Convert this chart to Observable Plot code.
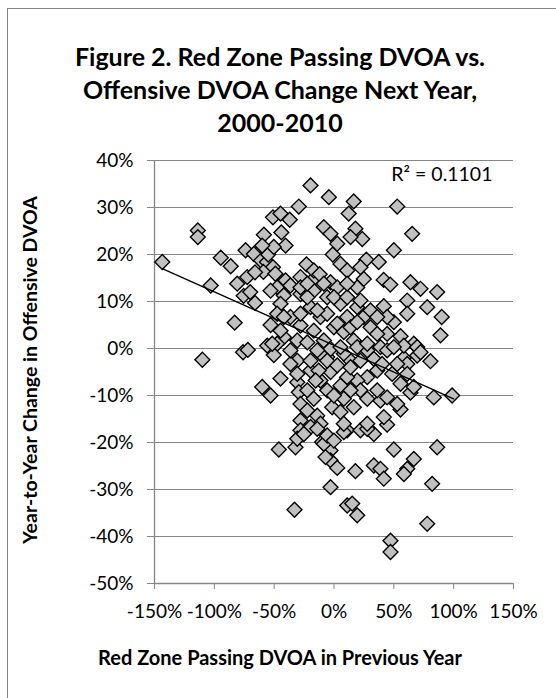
<!DOCTYPE html>
<html>
<head>
<meta charset="utf-8">
<script src="https://cdn.jsdelivr.net/npm/d3@7"></script>
<script src="https://cdn.jsdelivr.net/npm/@observablehq/plot@0.6"></script>
<style>
  html, body { margin: 0; padding: 0; background: #fff; overflow: hidden; }
  #wrap { width: 556px; height: 698px; overflow: hidden; position: relative; font-family: Lato, "Open Sans", sans-serif; color: #000; }
  #frame { position: absolute; left: 7px; top: 8px; width: 600px; height: 760px; border: 1px solid #858585; box-sizing: border-box; }
  #title { position: absolute; left: 0; top: 40px; width: 560px; text-align: center; font-weight: 700; font-size: 25px; line-height: 33px; }
  #ytitle { position: absolute; left: 29px; top: 370px; transform: translate(-50%, -50%) rotate(-90deg); white-space: nowrap; font-weight: 700; font-size: 19.5px; }
  #xtitle { position: absolute; left: 280px; top: 657px; transform: translate(-50%, -50%); white-space: nowrap; font-weight: 700; font-size: 20px; }
  #chart { position: absolute; left: 0; top: 130px; }
</style>
</head>
<body>
<div id="wrap">
<div id="frame"></div>
<div id="title">Figure 2. Red Zone Passing DVOA vs.<br>Offensive DVOA Change Next Year,<br>2000-2010</div>
<div id="chart"></div>
<div id="ytitle">Year-to-Year Change in Offensive DVOA</div>
<div id="xtitle">Red Zone Passing DVOA in Previous Year</div>
</div>
<script>
// Red zone passing DVOA in previous year (%), per team-season
const redZoneDVOA = [
  -143.5,-113.8,-113.8,-103,-94.6,-86.3,-83,-80.9,-73.9,-76,-72,-110,-72.5,-67,-75.5,-66,-70,
  -58.6,-51,-44.7,-37,-44,-40.5,-29.4,-19.6,-4.3,-61,-56,-51,-59,-49,-55,-50.3,-66,
  -23,-28,-18.2,-16.9,-12,-8.5,-2.9,-1,-53,16.5,52.8,12.3,65.3,17.9,23.6,13.8,2.7,-60,
  50,27,37.4,5.4,22.1,11,24.9,41.5,47,63.9,72.3,86.2,-40.5,-47.5,-36.4,-2.9,2.7,19.4,
  -53,-41.9,-28,-16.9,-5.7,5.4,61.2,41.6,77.9,90,61.2,50,-44.7,-47.5,-36.4,-19.6,-11.3,
  19.4,11,24.9,-28,-16.9,-0.1,8.2,30.5,44.4,55.6,89,66.7,-41.9,-47.5,-30.7,-22.3,-8.5,
  16.5,38.8,-50.3,-30.7,-5.7,13.8,33.3,58.4,80.6,61.2,-44.7,-60,-53,-30.7,-29.4,-19.6,
  -11.3,-2.9,-22.3,-16.9,-28,-22.3,-28,-14,-1.5,8.2,16.5,5.4,11,22.1,33.3,44.4,41.6,
  38.8,55.6,52.8,63.9,83.4,98.7,69.5,48.6,36.1,27.8,19.4,11,36.1,22.1,5.4,55.6,66.7,
  27.8,8.2,-11.3,-2.9,44.4,-46.1,-32.2,-9.9,-2.9,-2.9,2.7,17.9,33.3,38.8,41.6,50,66.7,
  61.2,58.4,86.2,82,-2.9,-33,11,15.2,19.4,77.9,47.2,47.2,-28,-30.7,-11.3,-19.6,-25.2,
  -14,-8.5,-7.1,8.2,27.8,
  -55.8,-51.6,-36.4,-30.7,-19.6,-12.8,-5.7,2.7,13.8,22.1,19.4,40.2,52.8,61.2,58.4,69.5,
  -15.3,-5.7,-0.1,13.8,27.8,44.4,8.2,27.8,-5.7,-0.1,
  -41.9,-28,-5.7,2.7,13.8,19.4,36.1,27.8,5.4,-14,-36.4,-44.7,50,72.3,
  -22.3,-14,-0.1,11,22.1,30.5,-28,-22.3,11,-8.5,44.4,36.1
];
// Year-to-year change in offensive DVOA (%), same order
const dvoaChange = [
  18.4,25.1,23.7,13.4,19.3,17.5,5.5,13.8,20.9,-0.8,-0.3,-2.4,15.2,20.1,11.2,9.7,12,
  24.2,27.9,28.7,27.4,24.7,21.9,30.2,34.7,32.2,18.7,18.4,17.3,16.3,15.9,20,21.6,16.2,
  17.9,15.2,14.5,16.6,15.8,25.8,24.4,20,5,31.3,30.2,28.7,24.4,25.5,23.3,23.7,22.3,21.9,
  20.9,18.9,18.4,18,17.3,16.6,14.8,14.6,13.6,14.1,12.7,12,14.5,13,13.4,14.1,13,13,
  12.3,11.3,11.6,12.3,10.9,9.5,10.2,9,8.8,6.7,7.4,5.6,9.5,7.4,6.7,8.8,6.7,
  8.8,6.7,6.7,4.9,3.8,4.5,3.5,4.5,3.1,2.6,2.8,1,2.4,1,1.7,1.3,1.7,
  1.7,0.3,-1.4,-2.6,-1.8,-2.6,-2.2,-2,-2.7,-3.3,-6.4,-8.2,-10,-7.2,-9.3,-4.7,
  -6.8,-5,-8.9,-10.7,-11.8,-13.2,-15.3,-14.3,-12.5,-10.7,-12.5,-13.5,-17.4,-17.4,-18.2,-16.2,-14.6,
  -11.1,-13,-11.8,-9.4,-10.4,-10,-1.5,-5.4,-4.7,-6.1,-6.8,-6.1,-8.9,-8.9,-7.9,-7.5,-8.2,
  -0.4,-1.1,-1.1,-0.1,-0.4,-21.5,-21,-19.9,-21.7,-23.8,-25.4,-26.1,-24.9,-25.6,-27.7,-21.5,-23.5,
  -25.6,-26.7,-21,-28.8,-29.5,-34.3,-33.4,-33,-35.5,-37.3,-40.9,-43.3,-17.4,-19.2,-16,-16.7,-18.2,
  -17.1,-20.3,-23.1,-17.8,-17.1,
  0.6,1,-3.3,-5.4,-2.6,-4.7,-2.6,-3.6,-4,-2.6,0.3,-3.3,-3.3,-5.4,0.6,0.3,
  -6.8,-8.9,-10,-8.9,-10.7,-10.4,-16,-16,-18.5,-19.6,
  6.7,7.4,7.4,5.3,4.5,5.6,3.1,1,0.3,-0.4,-0.4,3.8,0.3,-0.8,
  10.9,8.1,10.9,10.9,10.2,8.1,13,13.8,13.8,13.8,6.7,6.7
];
// Linear trendline endpoints (x %, y %)
const trendX = [-143.5, 100];
const trendY = [17.0, -10.7];
const r2Label = ["R² = 0.1101"];
const xTicks = [-150, -100, -50, 0, 50, 100, 150];
const yTicks = [-50, -40, -30, -20, -10, 0, 10, 20, 30, 40];

const n = Math.min(redZoneDVOA.length, dvoaChange.length);
const points = d3.range(n).map(i => ({x: redZoneDVOA[i], y: dvoaChange[i]}));
const trend = trendX.map((x, i) => ({x, y: trendY[i]}));
const pct = d => String(d) + "%";

const gray = "#868686";
const plot = Plot.plot({
  width: 556,
  height: 568,
  marginLeft: 154,
  marginRight: 43,
  marginTop: 30,
  marginBottom: 115,
  style: {fontFamily: "Lato, 'Open Sans', sans-serif", background: "transparent", color: "#000"},
  x: {domain: [-150, 150]},
  y: {domain: [-50, 40]},
  marks: [
    Plot.gridY(yTicks, {stroke: gray, strokeOpacity: 1, strokeWidth: 1.2}),
    Plot.ruleX([-150], {stroke: gray, strokeWidth: 1.3}),
    Plot.ruleY([-50], {stroke: gray, strokeWidth: 1.3}),
    Plot.axisY(yTicks, {tickSize: 7, tickPadding: 14, stroke: gray, fill: "#000", fontSize: 19, tickFormat: pct, label: null}),
    Plot.axisX(xTicks, {tickSize: 6, tickPadding: 15, stroke: gray, fill: "#000", fontSize: 19, tickFormat: pct, label: null}),
    Plot.dot(points, {x: "x", y: "y", symbol: "diamond2", r: 6.7, fill: "#c0c0c0", stroke: "#000", strokeWidth: 1.4}),
    Plot.line(trend, {x: "x", y: "y", stroke: "#000", strokeWidth: 1.3}),
    Plot.text(r2Label, {frameAnchor: "top-right", dx: -21, dy: 14, textAnchor: "end", lineAnchor: "middle", fontSize: 19.5, fill: "#000"})
  ]
});
document.getElementById("chart").appendChild(plot);
</script>
</body>
</html>
